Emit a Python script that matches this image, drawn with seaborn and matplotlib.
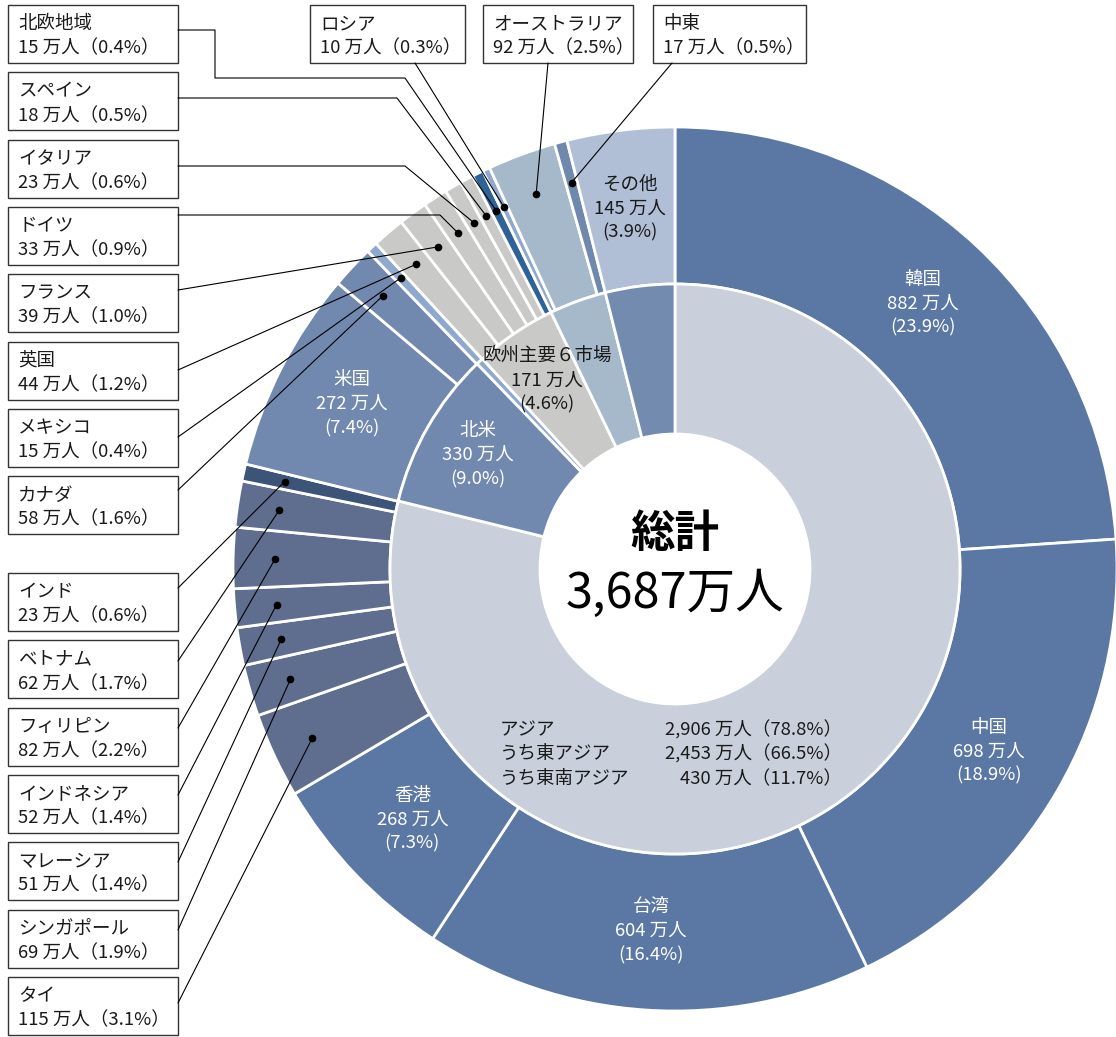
import matplotlib
matplotlib.use('Agg')
import matplotlib.pyplot as plt
import seaborn as sns
import numpy as np
from matplotlib.patches import Rectangle

# 訪日外客数 国・地域別（外側の輪）
names = ['韓国', '中国', '台湾', '香港', 'タイ', 'シンガポール', 'マレーシア', 'インドネシア',
         'フィリピン', 'ベトナム', 'インド', '米国', 'カナダ', 'メキシコ', '英国', 'フランス',
         'ドイツ', 'イタリア', 'スペイン', '北欧地域', 'ロシア', 'オーストラリア', '中東', 'その他']
visitors = [882, 698, 604, 268, 115, 69, 51, 52, 82, 62, 23, 272, 58, 15, 44, 39,
            33, 23, 18, 15, 10, 92, 17, 145]
shares = [23.9, 18.9, 16.4, 7.3, 3.1, 1.9, 1.4, 1.4, 2.2, 1.7, 0.6, 7.4, 1.6, 0.4, 1.2, 1.0,
          0.9, 0.6, 0.5, 0.4, 0.3, 2.5, 0.5, 3.9]
outer_colors = ['#5b77a3'] * 4 + ['#5f6d8e'] * 6 + ['#3b5477', '#7189af', '#7189af', '#8fa8cd'] \
    + ['#c9c9c7'] * 5 + ['#2f6398', '#8fa8cd', '#a6b9cb', '#6f89ad', '#b0bfd6']

# 内側の輪（地域）
regions = ['アジア', '北米', 'メキシコ', '欧州主要６市場', 'その他地域', 'その他']
region_visitors = [2906, 330, 15, 171, 119, 145]
region_shares = [78.8, 9.0, 0.4, 4.6, 3.2, 3.9]
region_colors = ['#c9d0dc', '#7189af', '#8fa8cd', '#c9c9c7', '#a6b9cb', '#728bae']

asia_rows = ['アジア', 'うち東アジア', 'うち東南アジア']
asia_visitors = ['2,906', '2,453', '430']
asia_shares = [78.8, 66.5, 11.7]
total_label = '3,687'

W, H = 1116, 1037
CX, CY, R, R_MID, R_HOLE = 675, 569, 442, 285, 135
INK = '#1a1a1a'
FS = 13.3

sns.set_theme(style='white')
plt.rcParams['font.family'] = ['Noto Sans CJK JP', 'DejaVu Sans']

fig = plt.figure(figsize=(W / 100, H / 100), dpi=100)
ax = fig.add_axes([0, 0, 1, 1])

wp = dict(edgecolor='white', linewidth=2)
outer, _ = ax.pie(visitors, radius=R, center=(CX, CY), startangle=-90, counterclock=True,
                  colors=outer_colors, wedgeprops=dict(width=R - R_MID, **wp))
inner, _ = ax.pie(region_visitors, radius=R_MID, center=(CX, CY), startangle=-90, counterclock=True,
                  colors=region_colors, wedgeprops=dict(width=R_MID - R_HOLE, **wp))
ax.set_aspect('equal')
ax.set_xlim(0, W)
ax.set_ylim(H, 0)
ax.axis('off')


def polar(w, r):
    th = np.deg2rad((w.theta1 + w.theta2) / 2)
    return CX + r * np.cos(th), CY + r * np.sin(th)


def lines(x, y, rows, step=24, **kw):
    n = len(rows)
    for i, row in enumerate(rows):
        ax.text(x, y + (i - (n - 1) / 2) * step, row, fontsize=FS, va='center', **kw)


# ラベル（スライス内）
inside = {'韓国': 'white', '中国': 'white', '台湾': 'white', '香港': 'white', '米国': 'white', 'その他': INK}
for w, n, v, s in zip(outer, names, visitors, shares):
    if n in inside:
        x, y = polar(w, 363)
        lines(x, y, [n, f'{v} 万人', f'({s}%)'], ha='center', color=inside[n])

for w, n, v, s in zip(inner, regions, region_visitors, region_shares):
    if n in ('北米', '欧州主要６市場'):
        x, y = polar(w, 228)
        lines(x, y, [n, f'{v} 万人', f'({s:.1f}%)'], ha='center',
              color='white' if n == '北米' else INK)

for i, (row, v, s) in enumerate(zip(asia_rows, asia_visitors, asia_shares)):
    ax.text(500, 730 + i * 24.5, row, fontsize=FS, color=INK, va='center', ha='left')
    ax.text(842, 730 + i * 24.5, f'{v} 万人（{s}%）', fontsize=FS, color=INK, va='center', ha='right')

ax.text(CX, 534, '総計', fontsize=32, fontweight='bold', color='black', ha='center', va='center')
ax.text(CX, 594, f'{total_label}万人', fontsize=35, color='black', ha='center', va='center')

# 引き出し線付きのボックス
STEP = 67.3
boxes = {}
for i, n in enumerate(['北欧地域', 'スペイン', 'イタリア', 'ドイツ', 'フランス', '英国', 'メキシコ', 'カナダ']):
    boxes[n] = (8, 5 + i * STEP, 170)
for i, n in enumerate(['インド', 'ベトナム', 'フィリピン', 'インドネシア', 'マレーシア', 'シンガポール', 'タイ']):
    boxes[n] = (8, 573 + i * STEP, 170)
boxes['ロシア'] = (310, 5, 155)
boxes['オーストラリア'] = (483, 5, 150)
boxes['中東'] = (653, 5, 153)

leaders = {
    '北欧地域': [(178, 30), (215, 30), (215, 78), (405, 78)],
    'スペイン': [(178, 98), (397, 98)],
    'イタリア': [(178, 166), (405, 166)],
    'ドイツ': [(178, 215), (440, 215)],
    'フランス': [(178, 290)],
    '英国': [(178, 370)],
    'メキシコ': [(178, 437)],
    'カナダ': [(178, 490)],
    'インド': [(178, 588)],
    'ベトナム': [(178, 661)],
    'フィリピン': [(178, 728)],
    'インドネシア': [(178, 795)],
    'マレーシア': [(178, 862)],
    'シンガポール': [(178, 930)],
    'タイ': [(178, 1003)],
    'ロシア': [(415, 63)],
    'オーストラリア': [(548, 63)],
    '中東': [(672, 63)],
}

for w, n, v, s in zip(outer, names, visitors, shares):
    if n not in boxes:
        continue
    bx, by, bw = boxes[n]
    ax.add_patch(Rectangle((bx, by), bw, 58, facecolor='white', edgecolor='#333333', lw=1, zorder=3))
    ax.text(bx + 10, by + 19.5, n, fontsize=FS, color=INK, va='center', zorder=4)
    ax.text(bx + 10, by + 43.5, f'{v} 万人（{s}%）', fontsize=FS, color=INK, va='center', zorder=4)
    dx, dy = polar(w, 400)
    pts = leaders[n] + [(dx, dy)]
    ax.plot([p[0] for p in pts], [p[1] for p in pts], color='black', lw=0.8, zorder=5)
    ax.plot(dx, dy, 'o', color='black', ms=4.5, zorder=6)

fig.savefig('out.png', dpi=100, facecolor='white')
